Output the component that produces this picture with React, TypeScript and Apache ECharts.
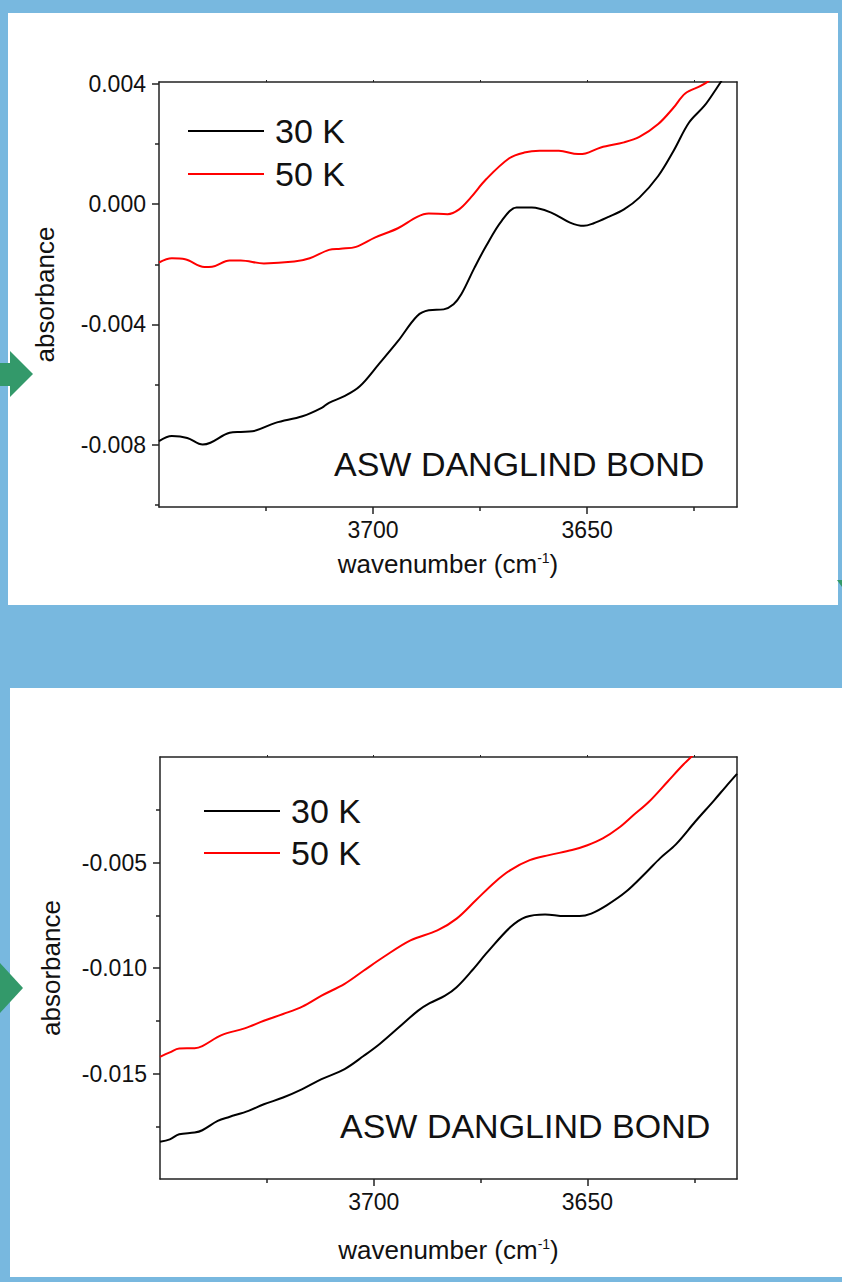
import React, { useEffect, useRef } from 'react';
import * as echarts from 'echarts';

const FONT = '"Liberation Sans", Arial, Helvetica, sans-serif';
const AX = '#222222';

// wavenumber axis (shared)
const xMin = 3615;
const xMax = 3750;
const xMajorTicks = [3700, 3650];
const xMinorTicks = [3725, 3675, 3625];
const xAllTicks = [3725, 3700, 3675, 3650, 3625];

// panel 1 y axis
const p1YMin = -0.01008;
const p1YMax = 0.00407;
const p1YMajor = [0.004, 0.0, -0.004, -0.008];
const p1YMinor = [0.002, -0.002, -0.006, -0.01];

// panel 2 y axis
const p2YMin = -0.02;
const p2YMax = 0.0;
const p2YMajor = [-0.005, -0.01, -0.015];
const p2YMinor = [-0.0025, -0.0075, -0.0125, -0.0175];

const seriesNames = ['30 K', '50 K'];

// panel 1, 30 K
const p1Wave30 = [3750, 3747, 3743.4, 3739.8, 3738, 3733.5, 3730.9, 3728.2, 3722.8, 3716.5, 3712, 3710.3, 3706.7, 3703.1, 3698.7, 3694.2, 3689.7, 3687, 3683.5, 3681.2, 3679.4, 3676.3, 3673.6, 3670, 3666.5, 3662.9, 3658.4, 3654, 3650.8, 3648.6, 3645, 3641.4, 3637.8, 3633.4, 3629.8, 3626.2, 3622.6, 3619.9, 3618.6];
const p1Abs30 = [-0.00789, -0.00772, -0.00778, -0.008, -0.00794, -0.00761, -0.00758, -0.00756, -0.00728, -0.00706, -0.00678, -0.00661, -0.00639, -0.00606, -0.00533, -0.00456, -0.00372, -0.00353, -0.0035, -0.00333, -0.003, -0.00211, -0.00139, -0.00056, -0.00011, -0.00011, -0.00028, -0.00061, -0.00072, -0.00064, -0.00042, -0.00017, 0.00022, 0.00094, 0.00178, 0.00272, 0.00328, 0.00383, 0.00411];

// panel 1, 50 K
const p1Wave50 = [3750, 3747, 3743.9, 3739.4, 3737.6, 3733.5, 3730.9, 3725.5, 3718.4, 3714.8, 3710.3, 3707.6, 3704, 3699.6, 3694.2, 3689.7, 3687, 3682.6, 3679.9, 3677.2, 3673.6, 3668.2, 3664.7, 3661.1, 3656.6, 3652.1, 3650.4, 3646.8, 3641.4, 3637.8, 3633.4, 3629.8, 3627.1, 3623.5, 3621.5];
const p1Abs50 = [-0.00194, -0.0018, -0.00183, -0.00209, -0.00208, -0.00187, -0.00187, -0.00197, -0.00191, -0.0018, -0.00152, -0.00148, -0.00142, -0.00111, -0.0008, -0.00042, -0.00031, -0.00033, -0.00017, 0.00022, 0.00083, 0.00153, 0.00172, 0.00178, 0.00178, 0.00167, 0.00169, 0.00189, 0.00206, 0.00224, 0.00267, 0.00322, 0.00369, 0.00394, 0.00411];

// panel 2, 30 K
const p2Wave30 = [3750, 3747.7, 3745.5, 3741.9, 3740.1, 3736.5, 3733.8, 3729.3, 3725.7, 3721.2, 3716.7, 3712.2, 3706.8, 3702.3, 3698.6, 3694.1, 3689.6, 3686.9, 3683.3, 3680.6, 3677, 3673.4, 3668, 3664.4, 3659.9, 3655.4, 3651.8, 3649.1, 3645.5, 3641, 3636.5, 3632.9, 3629.3, 3624.8, 3620.3, 3617.6, 3615];
const p2Abs30 = [-0.01823, -0.01812, -0.01788, -0.0178, -0.01769, -0.01725, -0.01706, -0.01677, -0.01646, -0.01614, -0.01574, -0.01527, -0.01479, -0.01416, -0.0136, -0.01281, -0.01202, -0.01167, -0.01131, -0.01091, -0.01012, -0.00925, -0.00806, -0.00758, -0.00746, -0.00754, -0.00754, -0.00742, -0.00703, -0.00639, -0.00552, -0.00478, -0.00414, -0.00307, -0.00204, -0.0014, -0.0008];

// panel 2, 50 K
const p2Wave50 = [3750, 3747.7, 3745.5, 3741.9, 3740.1, 3735.6, 3730.2, 3725.7, 3721.2, 3716.7, 3712.2, 3706.8, 3702.3, 3697.7, 3691.4, 3685.1, 3680.6, 3676.1, 3671.6, 3668, 3663.5, 3659, 3653.6, 3650, 3646.4, 3642.8, 3639.2, 3635.6, 3631.2, 3627.6, 3625.2];
const p2Abs50 = [-0.01421, -0.014, -0.01381, -0.0138, -0.0137, -0.01318, -0.01286, -0.0125, -0.01218, -0.01183, -0.01131, -0.01075, -0.01012, -0.00948, -0.00869, -0.00822, -0.00766, -0.00679, -0.00592, -0.00536, -0.00489, -0.00465, -0.00441, -0.00418, -0.00386, -0.00338, -0.00275, -0.00212, -0.00116, -0.00037, 0.0001];

const annotation = 'ASW DANGLIND BOND';
const xTitle = '{a|wavenumber (cm}{s|-1}{a|)}';
const yTitle = 'absorbance';

const zip = (xs: number[], ys: number[]) => xs.map((x, i) => [x, ys[i]]);

function xAxesFor(gridIndex: number, nameGap: number) {
  return [
    {
      type: 'value', gridIndex, min: xMin, max: xMax, inverse: true, position: 'bottom',
      axisLine: { show: true, onZero: false, lineStyle: { color: AX, width: 1.5 } },
      axisTick: { show: true, length: 7, customValues: xMajorTicks, lineStyle: { color: AX, width: 1.5 } },
      axisLabel: {
        show: true, customValues: xMajorTicks, formatter: (v: number) => String(Math.round(v)),
        fontSize: 23, color: '#111', margin: 11, fontFamily: FONT,
      },
      splitLine: { show: false },
      name: xTitle, nameLocation: 'middle', nameGap,
      nameTextStyle: {
        fontFamily: FONT, color: '#111',
        rich: {
          a: { fontSize: 26, fontFamily: FONT, color: '#111' },
          s: { fontSize: 14, fontFamily: FONT, color: '#111', verticalAlign: 'top' },
        },
      },
    },
    {
      type: 'value', gridIndex, min: xMin, max: xMax, inverse: true, position: 'bottom',
      axisLine: { show: false, onZero: false },
      axisTick: { show: true, length: 4, customValues: xMinorTicks, lineStyle: { color: AX, width: 1.5 } },
      axisLabel: { show: false },
      splitLine: { show: false },
    },
    {
      type: 'value', gridIndex, min: xMin, max: xMax, inverse: true, position: 'top',
      axisLine: { show: true, onZero: false, lineStyle: { color: AX, width: 1.5 } },
      axisTick: { show: true, length: 2, customValues: xAllTicks, lineStyle: { color: AX, width: 1 } },
      axisLabel: { show: false },
      splitLine: { show: false },
    },
  ];
}

function yAxesFor(gridIndex: number, min: number, max: number, major: number[], minor: number[], nameGap: number) {
  return [
    {
      type: 'value', gridIndex, min, max, position: 'left',
      axisLine: { show: true, onZero: false, lineStyle: { color: AX, width: 1.5 } },
      axisTick: { show: true, length: 7, customValues: major, lineStyle: { color: AX, width: 1.5 } },
      axisLabel: {
        show: true, customValues: major, formatter: (v: number) => (Math.abs(v) < 1e-9 ? '0.000' : v.toFixed(3)),
        fontSize: 23, color: '#111', margin: 13, fontFamily: FONT,
      },
      splitLine: { show: false },
      name: yTitle, nameLocation: 'middle', nameGap,
      nameTextStyle: { fontSize: 26, fontFamily: FONT, color: '#111' },
    },
    {
      type: 'value', gridIndex, min, max, position: 'left',
      axisLine: { show: false, onZero: false },
      axisTick: { show: true, length: 4, customValues: minor, lineStyle: { color: AX, width: 1.5 } },
      axisLabel: { show: false },
      splitLine: { show: false },
    },
    {
      type: 'value', gridIndex, min, max, position: 'right',
      axisLine: { show: true, onZero: false, lineStyle: { color: AX, width: 1.5 } },
      axisTick: { show: false },
      axisLabel: { show: false },
      splitLine: { show: false },
    },
  ];
}

function lineSeries(name: string, color: string, xi: number, yi: number, data: number[][]) {
  return {
    type: 'line', name, xAxisIndex: xi, yAxisIndex: yi, data,
    showSymbol: false, symbol: 'none', smooth: 0.35, clip: true,
    lineStyle: { color, width: 2 }, itemStyle: { color },
    emphasis: { disabled: true },
  };
}

function legendAt(left: number, top: number, gap: number) {
  return {
    data: seriesNames, left, top, orient: 'vertical', padding: 0,
    icon: 'rect', itemWidth: 76, itemHeight: 2, itemGap: gap, selectedMode: false,
    textStyle: { fontSize: 34, lineHeight: 34, fontFamily: FONT, color: '#111', padding: [0, 0, 0, 6] },
  };
}

export default function App() {
  const ref = useRef<HTMLDivElement>(null);
  useEffect(() => {
    if (!ref.current) return;
    const chart = echarts.init(ref.current, null, { renderer: 'svg', width: 842, height: 1282 });
    const option: any = {
      animation: false,
      backgroundColor: '#78b8df',
      grid: [
        { left: 159, top: 82, width: 578, height: 425, containLabel: false },
        { left: 160, top: 757, width: 577, height: 422, containLabel: false },
      ],
      xAxis: [...xAxesFor(0, 44), ...xAxesFor(1, 58)],
      yAxis: [
        ...yAxesFor(0, p1YMin, p1YMax, p1YMajor, p1YMinor, 101),
        ...yAxesFor(1, p2YMin, p2YMax, p2YMajor, p2YMinor, 96),
      ],
      legend: [legendAt(188, 114, 9), legendAt(204, 794, 8)],
      series: [
        lineSeries(seriesNames[0], '#000000', 0, 0, zip(p1Wave30, p1Abs30)),
        lineSeries(seriesNames[1], '#ff0000', 0, 0, zip(p1Wave50, p1Abs50)),
        lineSeries(seriesNames[0], '#000000', 3, 3, zip(p2Wave30, p2Abs30)),
        lineSeries(seriesNames[1], '#ff0000', 3, 3, zip(p2Wave50, p2Abs50)),
      ],
      graphic: [
        { type: 'rect', z: -10, shape: { x: 8, y: 13, width: 830, height: 592 }, style: { fill: '#ffffff' }, silent: true },
        { type: 'rect', z: -10, shape: { x: 10, y: 688, width: 832, height: 589 }, style: { fill: '#ffffff' }, silent: true },
        { type: 'rect', z: -5, shape: { x: 0, y: 363, width: 12, height: 23 }, style: { fill: '#33996a' }, silent: true },
        { type: 'polygon', z: -5, shape: { points: [[10, 351], [33, 374], [10, 397]] }, style: { fill: '#33996a' }, silent: true },
        { type: 'polygon', z: -5, shape: { points: [[0, 963], [23, 988], [0, 1013]] }, style: { fill: '#33996a' }, silent: true },
        { type: 'polygon', z: -5, shape: { points: [[837, 580], [842, 580], [842, 587]] }, style: { fill: '#33996a' }, silent: true },
        {
          type: 'text', z: 10, x: 334, y: 464,
          style: { text: annotation, fontSize: 34, fontFamily: FONT, fill: '#111', align: 'left', verticalAlign: 'middle' },
        },
        {
          type: 'text', z: 10, x: 340, y: 1126,
          style: { text: annotation, fontSize: 34, fontFamily: FONT, fill: '#111', align: 'left', verticalAlign: 'middle' },
        },
      ],
    };
    chart.setOption(option);
    return () => chart.dispose();
  }, []);
  return <div ref={ref} style={{ position: 'absolute', left: 0, top: 0, width: 842, height: 1282 }} />;
}
